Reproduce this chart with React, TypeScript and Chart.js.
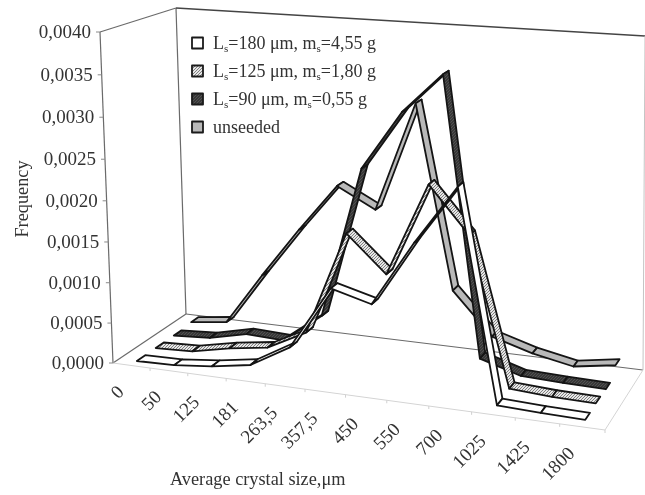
import React, { useEffect, useRef } from "react";
import { Chart, registerables } from "chart.js";

Chart.register(...registerables);

const categories = ["0", "50", "125", "181", "263,5", "357,5", "450", "550", "700", "1025", "1425", "1800"];
const series180 = [0.00001, 0.00002, 0.00007, 0.00015, 0.00043, 0.0012, 0.00107, 0.00185, 0.00254, 0.00006, 0.00004, 0.00003];
const series125 = [0.00001, 0.00003, 0.00013, 0.0002, 0.00045, 0.00172, 0.00128, 0.0024, 0.00185, 0.00008, 0.00005, 0.00004];
const series90 = [0.00001, 0.00004, 0.00015, 0.00013, 0.0005, 0.00238, 0.0031, 0.00358, 0.00021, 0.00006, 0.00004, 0.00003];
const unseeded = [0.00003, 0.00009, 0.00076, 0.0014, 0.002, 0.00175, 0.0031, 0.00084, 0.00032, 0.00017, 0.00007, 0.00015];
const yTicks = [0, 0.0005, 0.001, 0.0015, 0.002, 0.0025, 0.003, 0.0035, 0.004];
const yTickLabels = ["0,0000", "0,0005", "0,0010", "0,0015", "0,0020", "0,0025", "0,0030", "0,0035", "0,0040"];
const legendParts = [
  ["L", "s", "=180 μm, m", "s", "=4,55 g"],
  ["L", "s", "=125 μm, m", "s", "=1,80 g"],
  ["L", "s", "=90 μm, m", "s", "=0,55 g"],
  ["unseeded"],
];
const seriesNames = ["Ls=180 μm, ms=4,55 g", "Ls=125 μm, ms=1,80 g", "Ls=90 μm, ms=0,55 g", "unseeded"];
const seriesValues = [series180, series125, series90, unseeded];

const FONT = '"Liberation Serif"';
type Pt = [number, number];
const floorQuad: Pt[] = [[113, 363], [605, 430], [643, 370], [186, 314]];
const topQuad: Pt[] = [[100, 32], [609, 70], [645, 36], [176, 8]];

function homography(q: Pt[]) {
  const [[x0, y0], [x1, y1], [x2, y2], [x3, y3]] = q;
  const dx1 = x1 - x2, dx2 = x3 - x2, sx = x0 - x1 + x2 - x3;
  const dy1 = y1 - y2, dy2 = y3 - y2, sy = y0 - y1 + y2 - y3;
  const den = dx1 * dy2 - dx2 * dy1;
  const g = (sx * dy2 - dx2 * sy) / den;
  const h = (dx1 * sy - sx * dy1) / den;
  const a = x1 - x0 + g * x1, b = x3 - x0 + h * x3;
  const d = y1 - y0 + g * y1, e = y3 - y0 + h * y3;
  return (u: number, w: number): Pt => {
    const D = g * u + h * w + 1;
    return [(a * u + b * w + x0) / D, (d * u + e * w + y0) / D];
  };
}
function bilinear(q: Pt[]) {
  return (u: number, w: number): Pt => {
    const fx = q[0][0] + (q[1][0] - q[0][0]) * u;
    const fy = q[0][1] + (q[1][1] - q[0][1]) * u;
    const bx = q[3][0] + (q[2][0] - q[3][0]) * u;
    const by = q[3][1] + (q[2][1] - q[3][1]) * u;
    return [fx + (bx - fx) * w, fy + (by - fy) * w];
  };
}
const floorH = homography(floorQuad);
const topP = homography(topQuad);
const topL = bilinear(topQuad);
const topH = (u: number, w: number): Pt => {
  const p = topP(u, w);
  const l = topL(u, w);
  return [l[0] * 0.85 + p[0] * 0.15, l[1] * 0.85 + p[1] * 0.15];
};

function project(u: number, w: number, z: number): Pt {
  const zp = z * 0.96 + 0.04 * z * z;
  const f = floorH(u, w);
  const t = topH(u, w);
  return [f[0] + (t[0] - f[0]) * zp, f[1] + (t[1] - f[1]) * zp];
}

function makePattern(ctx: CanvasRenderingContext2D, bg: string, fg: string) {
  const c = document.createElement("canvas");
  c.width = 3;
  c.height = 3;
  const p = c.getContext("2d")!;
  p.fillStyle = bg;
  p.fillRect(0, 0, 3, 3);
  p.strokeStyle = fg;
  p.lineWidth = 1;
  p.beginPath();
  p.moveTo(0, 3);
  p.lineTo(3, 0);
  p.moveTo(-1, 1);
  p.lineTo(1, -1);
  p.moveTo(2, 4);
  p.lineTo(4, 2);
  p.stroke();
  return ctx.createPattern(c, "repeat")!;
}

const ribbonPlugin = {
  id: "ribbon3d",
  afterDatasetsDraw(chart: any) {
    const ctx: CanvasRenderingContext2D = chart.ctx;
    const xs = chart.scales.x;
    const ys = chart.scales.y;
    const uOf = (i: number) => (xs.getPixelForValue(i) - xs.left) / xs.width;
    const zOf = (v: number) => (ys.bottom - ys.getPixelForValue(v)) / ys.height;
    const fills: any[] = [
      "#ffffff",
      makePattern(ctx, "#e6e6e6", "#808080"),
      makePattern(ctx, "#383838", "#525252"),
      "#b9b9b9",
    ];
    ctx.save();

    const line = (a: Pt, b: Pt, color: string, width = 1) => {
      ctx.strokeStyle = color;
      ctx.lineWidth = width;
      ctx.beginPath();
      ctx.moveTo(a[0], a[1]);
      ctx.lineTo(b[0], b[1]);
      ctx.stroke();
    };

    // walls and floor
    const wall = "#6a6a6a";
    line(project(0, 0, 0), project(0, 0, 1), wall, 1.2);
    line(project(0, 1, 0), project(0, 1, 1), wall, 1.2);
    line(project(0, 0, 1), project(0, 1, 1), wall, 1.2);
    line(project(0, 1, 1), project(1, 1, 1), "#444444", 1.4);
    line(project(0, 0, 0), project(0, 1, 0), wall, 1.2);
    line(project(0, 1, 0), project(1, 1, 0), wall, 1.2);
    line(project(1, 1, 0), project(1, 1, 1), "#c4c4c4", 1);
    line(project(0, 0, 0), project(1, 0, 0), "#d4d4d4", 1);
    line(project(1, 0, 0), project(1, 1, 0), "#d4d4d4", 1);

    // value axis
    ctx.fillStyle = "#333333";
    ctx.font = `19px ${FONT}`;
    ctx.textAlign = "right";
    ctx.textBaseline = "middle";
    yTicks.forEach((t, k) => {
      const p = project(0, 0, zOf(t));
      line(p, [p[0] - 4, p[1]], "#8a8a8a", 1);
      ctx.fillText(yTickLabels[k], p[0] - 9, p[1] + 1);
    });

    // category axis
    ctx.font = `19px ${FONT}`;
    categories.forEach((label, i) => {
      const p = project(uOf(i), 0, 0);
      const edge = project((i + 1) / categories.length, 0, 0);
      line(edge, [edge[0], edge[1] + 3], "#d0d0d0", 1);
      ctx.save();
      ctx.translate(p[0] - 10, p[1] + 24);
      ctx.rotate(-Math.PI / 4);
      ctx.fillText(label, 0, 0);
      ctx.restore();
    });

    // ribbons, back to front
    const half = 0.055;
    for (let s = seriesValues.length - 1; s >= 0; s--) {
      const w = (s + 0.5) / seriesValues.length;
      const vals = seriesValues[s];
      ctx.fillStyle = fills[s];
      ctx.strokeStyle = "#141414";
      ctx.lineWidth = 1.8;
      ctx.lineJoin = "round";
      for (let i = 0; i < vals.length - 1; i++) {
        const a = project(uOf(i), w - half, zOf(vals[i]));
        const b = project(uOf(i + 1), w - half, zOf(vals[i + 1]));
        const c = project(uOf(i + 1), w + half, zOf(vals[i + 1]));
        const d = project(uOf(i), w + half, zOf(vals[i]));
        ctx.beginPath();
        ctx.moveTo(a[0], a[1]);
        ctx.lineTo(b[0], b[1]);
        ctx.lineTo(c[0], c[1]);
        ctx.lineTo(d[0], d[1]);
        ctx.closePath();
        ctx.fill();
        ctx.stroke();
      }
    }

    // legend
    const legendY = [43, 71, 99, 127];
    ctx.textAlign = "left";
    ctx.textBaseline = "alphabetic";
    legendParts.forEach((parts, k) => {
      ctx.fillStyle = fills[k];
      ctx.strokeStyle = "#1a1a1a";
      ctx.lineWidth = 1.8;
      ctx.fillRect(192, legendY[k] - 5.5, 11, 11);
      ctx.strokeRect(192, legendY[k] - 5.5, 11, 11);
      ctx.fillStyle = "#333333";
      let x = 213;
      parts.forEach((part, idx) => {
        const sub = parts.length > 1 && idx % 2 === 1 && part === "s";
        ctx.font = sub ? `11px ${FONT}` : `18px ${FONT}`;
        ctx.fillText(part, x, legendY[k] + (sub ? 9 : 6));
        x += ctx.measureText(part).width;
      });
    });

    // axis titles
    ctx.font = `18.3px ${FONT}`;
    ctx.fillText("Average crystal size,μm", 170, 485);
    ctx.save();
    ctx.translate(28, 199);
    ctx.rotate(-Math.PI / 2);
    ctx.textAlign = "center";
    ctx.fillText("Frequency", 0, 0);
    ctx.restore();

    ctx.restore();
  },
};

export default function App() {
  const ref = useRef<HTMLCanvasElement>(null);
  useEffect(() => {
    const chart = new Chart(ref.current!, {
      type: "line",
      data: {
        labels: categories,
        datasets: seriesValues.map((data, k) => ({
          label: seriesNames[k],
          data,
          showLine: false,
          pointRadius: 0,
        })),
      },
      options: {
        animation: false,
        responsive: false,
        plugins: { legend: { display: false }, tooltip: { enabled: false } },
        scales: {
          x: { type: "category", offset: true, display: false },
          y: { type: "linear", min: 0, max: 0.004, display: false },
        },
      },
      plugins: [ribbonPlugin],
    } as any);
    return () => chart.destroy();
  }, []);
  return (
    <div style={{ position: "absolute", left: 0, top: 0, width: 645, height: 495, background: "#fff" }}>
      <canvas ref={ref} width={645} height={495} style={{ display: "block", filter: "blur(0.4px)" }} />
    </div>
  );
}
